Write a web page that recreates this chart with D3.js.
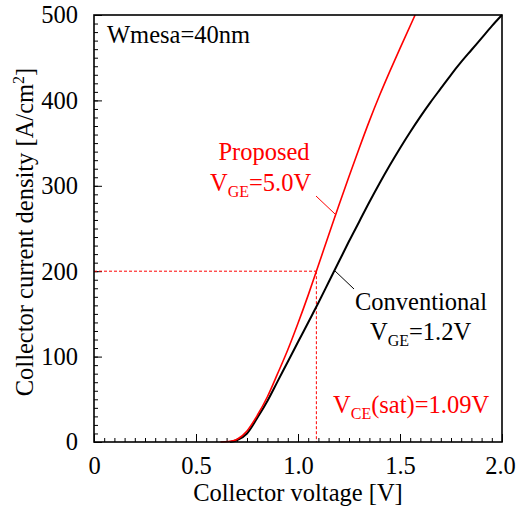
<!DOCTYPE html>
<html><head><meta charset="utf-8">
<script src="https://cdn.jsdelivr.net/npm/d3@7"></script>
<style>
html,body{margin:0;padding:0;background:#fff;}
text{font-family:"Liberation Serif","Times New Roman",serif;}
</style></head>
<body>
<svg id="chart" width="516" height="512"></svg>
<script>
// Data
const proposedV = [0.62,0.66,0.70,0.75,0.80,0.85,0.90,0.95,1.00,1.05,1.10,1.15,1.20,1.25,1.30,1.35,1.40,1.45,1.50,1.574];
const proposedJ = [0,0.5,3,13,31,53,80,108,139,172,207,242,277,311,344,376,406,434,461,500];
const conventionalV = [0.667,0.70,0.75,0.80,0.85,0.90,0.95,1.00,1.05,1.10,1.15,1.20,1.25,1.30,1.35,1.40,1.45,1.50,1.55,1.60,1.65,1.70,1.75,1.80,1.85,1.90,1.95,2.00];
const conventionalJ = [0,2,10,28,48,71,94,117,140,163,187,211,235,258,281,303,324,344,363,381,398,414,430,445,459,473,487,500];
const xTicks = [0,0.5,1.0,1.5,2.0];
const xTickLabels = ["0","0.5","1.0","1.5","2.0"];
const yTicks = [0,100,200,300,400,500];
const vceSat = 1.09;
const jRef = 200;

const svg = d3.select("#chart");
const L = 94, R = 502, T = 15, B = 442;
const x = d3.scaleLinear().domain([0,2]).range([L,R]);
const y = d3.scaleLinear().domain([0,500]).range([B,T]);
const FS = 24.5, SUB = 16;

// minor ticks
const xMinor = d3.range(0,2.0001,0.05);
const yMinor = d3.range(0,500.001,10);
function inTicks(axis, tr){
  svg.append("g").attr("transform",tr).call(axis)
    .call(g=>g.select(".domain").remove())
    .selectAll("line").attr("stroke","#000").attr("stroke-width",1);
}
inTicks(d3.axisTop(x).tickValues(xMinor).tickSize(4).tickFormat(""), `translate(0,${B})`);
inTicks(d3.axisRight(y).tickValues(yMinor).tickSize(4).tickFormat(""), `translate(${L},0)`);
inTicks(d3.axisTop(x).tickValues(xTicks).tickSize(8).tickFormat(""), `translate(0,${B})`);
inTicks(d3.axisRight(y).tickValues(yTicks).tickSize(8).tickFormat(""), `translate(${L},0)`);

// tick labels
const xl = svg.append("g").attr("transform",`translate(0,${B})`)
  .call(d3.axisBottom(x).tickValues(xTicks).tickSize(0).tickPadding(15).tickFormat((d,i)=>xTickLabels[i]))
  .call(g=>g.select(".domain").remove());
xl.selectAll("text").attr("font-size",FS).attr("fill","#000").style("font-family","Liberation Serif")
  .attr("x",(d,i)=> i===xTicks.length-1 ? -2 : 0);
svg.append("g").attr("transform",`translate(${L},0)`)
  .call(d3.axisLeft(y).tickValues(yTicks).tickSize(0).tickPadding(16).tickFormat(d3.format("d")))
  .call(g=>g.select(".domain").remove())
  .selectAll("text").attr("font-size",FS).attr("fill","#000").style("font-family","Liberation Serif");

// dashed reference lines
svg.append("line").attr("x1",x(0)).attr("x2",x(vceSat)).attr("y1",y(jRef)).attr("y2",y(jRef))
  .attr("stroke","#f00").attr("stroke-width",1).attr("stroke-dasharray","3,2");
svg.append("line").attr("x1",x(vceSat)).attr("x2",x(vceSat)).attr("y1",y(jRef)).attr("y2",y(0))
  .attr("stroke","#f00").attr("stroke-width",1).attr("stroke-dasharray","3,2");

// curves
const line = d3.line().x(d=>x(d[0])).y(d=>y(d[1])).curve(d3.curveMonotoneX);
svg.append("path").datum(conventionalV.map((v,i)=>[v,conventionalJ[i]]))
  .attr("d",line).attr("fill","none").attr("stroke","#000").attr("stroke-width",2);
svg.append("path").datum(proposedV.map((v,i)=>[v,proposedJ[i]]))
  .attr("d",line).attr("fill","none").attr("stroke","#f00").attr("stroke-width",1.6);

// frame
svg.append("rect").attr("x",L).attr("y",T).attr("width",R-L).attr("height",B-T)
  .attr("fill","none").attr("stroke","#000").attr("stroke-width",1.6);

// leader lines
svg.append("line").attr("x1",316).attr("y1",196).attr("x2",335).attr("y2",214).attr("stroke","#f00").attr("stroke-width",1);
svg.append("line").attr("x1",334).attr("y1",270).attr("x2",354).attr("y2",289).attr("stroke","#000").attr("stroke-width",1);

// texts
svg.append("text").attr("x",107).attr("y",43).attr("font-size",FS).text("Wmesa=40nm");

svg.append("text").attr("x",264).attr("y",160).attr("font-size",FS).attr("fill","#f00").attr("text-anchor","middle").text("Proposed");
function subText(xp, yp, color, main, sub, rest){
  const t = svg.append("text").attr("x",xp).attr("y",yp).attr("font-size",FS).attr("fill",color);
  t.append("tspan").text(main);
  t.append("tspan").attr("font-size",SUB).attr("dy",6).text(sub);
  t.append("tspan").attr("dy",-6).text(rest);
}
subText(210,191,"#f00","V","GE","=5.0V");
svg.append("text").attr("x",355).attr("y",310).attr("font-size",FS).attr("fill","#000").text("Conventional");
subText(370,340,"#000","V","GE","=1.2V");
subText(333,413,"#f00","V","CE","(sat)=1.09V");

// axis titles
svg.append("text").attr("x",(L+R)/2).attr("y",501).attr("font-size",FS).attr("text-anchor","middle").text("Collector voltage [V]");
const yt = svg.append("text").attr("transform",`translate(33,${232}) rotate(-90)`).attr("font-size",FS).attr("text-anchor","middle");
yt.append("tspan").text("Collector current density [A/cm");
yt.append("tspan").attr("font-size",SUB).attr("dy",-9).text("2");
yt.append("tspan").attr("dy",9).text("]");
</script>
</body></html>
